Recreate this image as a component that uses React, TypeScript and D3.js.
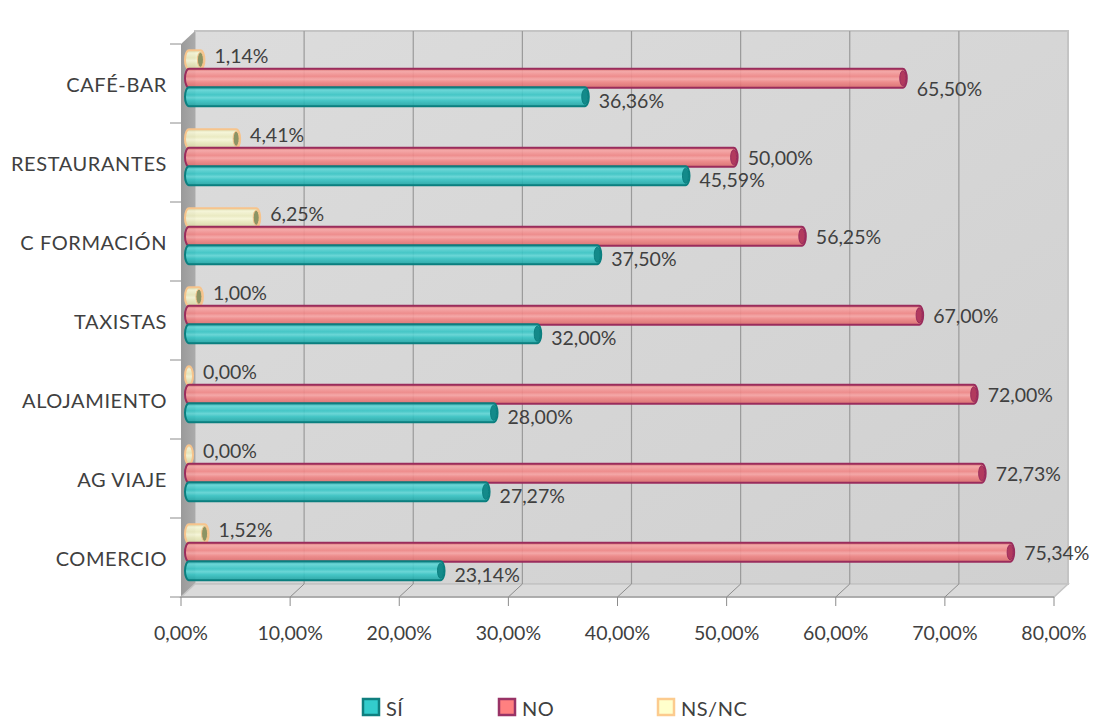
import React from "react";
import * as d3 from "d3";

const categories = ["CAFÉ-BAR", "RESTAURANTES", "C FORMACIÓN", "TAXISTAS", "ALOJAMIENTO", "AG VIAJE", "COMERCIO"];
const seriesNames = ["NS/NC", "NO", "SÍ"];
const nsncValues = [1.14, 4.41, 6.25, 1.0, 0.0, 0.0, 1.52];
const noValues = [65.5, 50.0, 56.25, 67.0, 72.0, 72.73, 75.34];
const siValues = [36.36, 45.59, 37.5, 32.0, 28.0, 27.27, 23.14];
const xTicks = [0, 10, 20, 30, 40, 50, 60, 70, 80];
const legendOrder = ["SÍ", "NO", "NS/NC"];

const seriesValues: Record<string, number[]> = { "NS/NC": nsncValues, NO: noValues, "SÍ": siValues };

const styles: Record<string, { light: string; base: string; dark: string; border: string; end: string; legendFill: string; legendStroke: string }> = {
  "SÍ": { light: "#5fd6d6", base: "#36c4c4", dark: "#1fa3a3", border: "#0b7f7f", end: "#138a8a", legendFill: "#33cccc", legendStroke: "#0f7f7f" },
  NO: { light: "#f7a3a3", base: "#f08585", dark: "#d96a6a", border: "#9a2c5c", end: "#b23a5e", legendFill: "#ff8080", legendStroke: "#993366" },
  "NS/NC": { light: "#f8f8d8", base: "#ececc0", dark: "#d8d8a4", border: "#f7c48c", end: "#8c9464", legendFill: "#ffffcc", legendStroke: "#fccb8e" },
};

const W = 1097;
const H = 725;
const FONT = "Lato, 'Open Sans', sans-serif";
const TXT = "#404040";

const fmt = (v: number) => v.toFixed(2).replace(".", ",") + "%";

export default function App() {
  const DX = 14;
  const DY = -13;
  const xFront = d3.scaleLinear().domain([0, 80]).range([181, 1054]);
  const xBack = (v: number) => xFront(v) + DX;
  const xBar = (v: number) => xFront(v) + DX / 2;
  const yBand = d3.scaleBand<string>().domain(categories).range([44, 597]).paddingInner(0).paddingOuter(0);
  const ySub = d3.scaleBand<string>().domain(seriesNames).range([6.5, 62]);
  const floorY = 597;
  const topY = 44;
  const barH = 19;
  const rx = 4;

  const backLeft = xBack(0);
  const backRight = xBack(80);

  return (
    <svg width={W} height={H} style={{ position: "absolute", left: 0, top: 0, background: "#fff" }} fontFamily={FONT}>
      <defs>
        <linearGradient id="wallGrad" x1="0" y1="0" x2="1" y2="1">
          <stop offset="0" stopColor="#dcdcdc" />
          <stop offset="0.5" stopColor="#d6d6d6" />
          <stop offset="1" stopColor="#d0d0d0" />
        </linearGradient>
        <linearGradient id="sideGrad" x1="0" y1="0" x2="1" y2="0">
          <stop offset="0" stopColor="#9a9a9a" />
          <stop offset="1" stopColor="#aaaaaa" />
        </linearGradient>
        {seriesNames.map((s, i) => (
          <linearGradient key={s} id={`g${i}`} x1="0" y1="0" x2="0" y2="1">
            <stop offset="0" stopColor={styles[s].dark} />
            <stop offset="0.15" stopColor={styles[s].light} />
            <stop offset="0.4" stopColor={styles[s].base} />
            <stop offset="0.55" stopColor={styles[s].light} />
            <stop offset="0.7" stopColor={styles[s].base} />
            <stop offset="1" stopColor={styles[s].dark} />
          </linearGradient>
        ))}
      </defs>

      {/* back wall */}
      <rect x={backLeft} y={topY + DY} width={backRight - backLeft} height={floorY - topY} fill="url(#wallGrad)" stroke="#c4c4c4" strokeWidth={2} />
      {/* left side wall */}
      <polygon
        points={`${xFront(0)},${topY} ${backLeft},${topY + DY} ${backLeft},${floorY + DY} ${xFront(0)},${floorY}`}
        fill="url(#sideGrad)"
      />
      {/* floor */}
      <polygon
        points={`${xFront(0)},${floorY} ${backLeft},${floorY + DY} ${backRight},${floorY + DY} ${xFront(80)},${floorY}`}
        fill="#dadada"
        stroke="#c4c4c4"
        strokeWidth={1.5}
      />
      {/* gridlines */}
      {xTicks.filter((t) => t > 0 && t < 80).map((t) => (
        <g key={t}>
          <line x1={xBack(t)} x2={xBack(t)} y1={topY + DY} y2={floorY + DY} stroke="#9a9a9a" strokeWidth={1.2} />
          <line x1={xBack(t)} x2={xFront(t)} y1={floorY + DY} y2={floorY} stroke="#8c8c8c" strokeWidth={1} />
        </g>
      ))}
      {/* axes */}
      <line x1={xFront(0)} x2={xFront(80)} y1={floorY} y2={floorY} stroke="#8c8c8c" strokeWidth={1} />
      {xTicks.map((t) => (
        <g key={t}>
          <line x1={xFront(t)} x2={xFront(t)} y1={floorY} y2={floorY + 9} stroke="#8c8c8c" strokeWidth={1} />
          <text x={xFront(t)} y={632} textAnchor="middle" dominantBaseline="central" fontSize={19.5} fill={TXT}>
            {fmt(t)}
          </text>
        </g>
      ))}
      {d3.range(categories.length + 1).map((i) => {
        const y = i < categories.length ? (yBand(categories[i]) as number) : floorY;
        return <line key={i} x1={170} x2={xFront(0)} y1={y} y2={y} stroke="#8c8c8c" strokeWidth={1} />;
      })}
      {categories.map((c) => (
        <text key={c} x={167} y={(yBand(c) as number) + yBand.bandwidth() / 2} textAnchor="end" dominantBaseline="central" fontSize={20} letterSpacing={0.6} fill={TXT}>
          {c}
        </text>
      ))}

      {/* bars */}
      {categories.map((c, ci) =>
        seriesNames.map((s, si) => {
          const v = seriesValues[s][ci];
          const st = styles[s];
          const cy = (yBand(c) as number) + (ySub(s) as number) + ySub.bandwidth() / 2;
          const x0 = xBar(0) + 1;
          const x1 = Math.max(x0, xBar(v));
          const top = cy - barH / 2;
          const bot = cy + barH / 2;
          const ry = barH / 2;
          const d = `M${x0},${top} L${x1},${top} A${rx},${ry} 0 0 1 ${x1},${bot} L${x0},${bot} A${rx},${ry} 0 0 1 ${x0},${top} Z`;
          const labelDy = si === 0 ? -4 : si === 2 ? 4 : ci === 0 ? 10 : 0;
          return (
            <g key={c + s}>
              <path d={d} fill={`url(#g${si})`} fillOpacity={0.9} stroke={st.border} strokeWidth={2} />
              {v > 0.5 && (
                <ellipse cx={x1} cy={cy} rx={rx - 1} ry={ry - 2} fill={st.end} stroke={st.border} strokeWidth={1} />
              )}
              <text x={x1 + rx + 10} y={cy + labelDy} dominantBaseline="central" fontSize={19.5} fill={TXT}>
                {fmt(v)}
              </text>
            </g>
          );
        })
      )}

      {/* legend */}
      {legendOrder.map((s, i) => {
        const lx = [363, 499, 658][i];
        const st = styles[s];
        return (
          <g key={s}>
            <rect x={lx} y={699} width={16} height={16} fill={st.legendFill} stroke={st.legendStroke} strokeWidth={2.5} />
            <text x={lx + 23} y={708} dominantBaseline="central" fontSize={20} letterSpacing={0.5} fill={TXT}>
              {s}
            </text>
          </g>
        );
      })}
    </svg>
  );
}
